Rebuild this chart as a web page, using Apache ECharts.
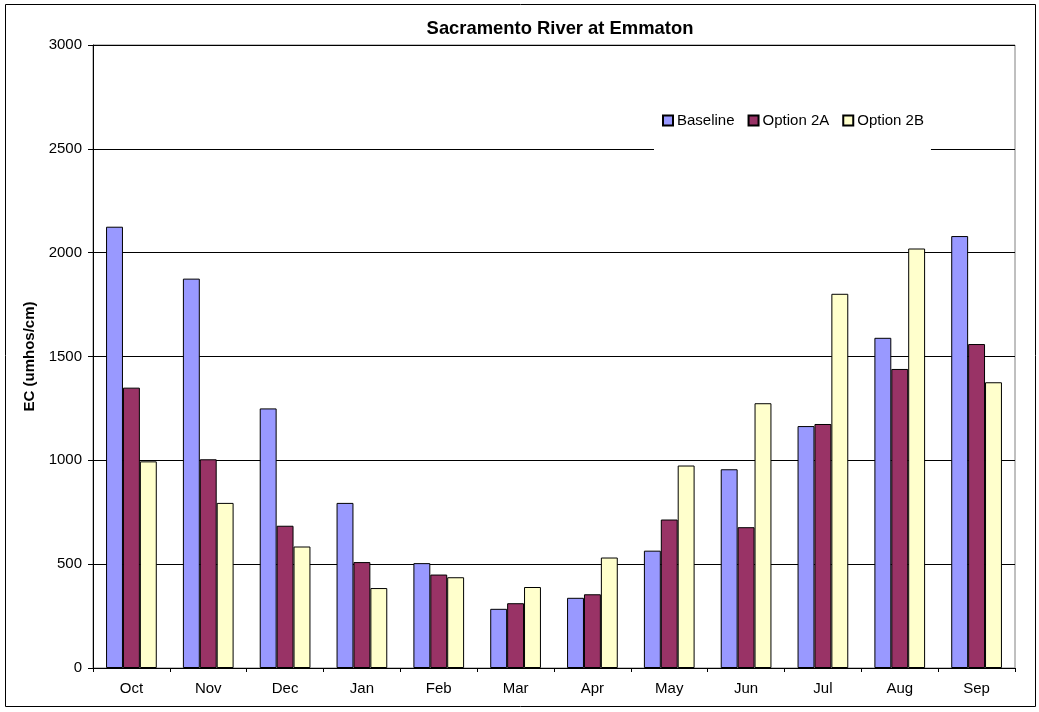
<!DOCTYPE html>
<html>
<head>
<meta charset="utf-8">
<script src="https://cdn.jsdelivr.net/npm/echarts@6/dist/echarts.min.js"></script>
<style>
  html, body { margin: 0; padding: 0; background: #fff; }
  #chart { width: 1039px; height: 712px; }
</style>
</head>
<body>
<div id="chart"></div>
<script>
var months = ['Oct', 'Nov', 'Dec', 'Jan', 'Feb', 'Mar', 'Apr', 'May', 'Jun', 'Jul', 'Aug', 'Sep'];
var baseline = [2125, 1875, 1250, 795, 505, 285, 338, 565, 957, 1165, 1590, 2080];
var option2A = [1350, 1005, 685, 510, 450, 312, 355, 715, 678, 1175, 1440, 1560];
var option2B = [995, 795, 585, 385, 437, 390, 532, 975, 1275, 1802, 2020, 1376];
var yTicks = [0, 500, 1000, 1500, 2000, 2500, 3000];

var font = 'Liberation Sans, Arial, sans-serif';
var myChart = echarts.init(document.getElementById('chart'));

function barSeries(name, data, color) {
    return {
        name: name,
        type: 'bar',
        data: data,
        barGap: '0%',
        barCategoryGap: '34%',
        itemStyle: { color: color, borderColor: '#000', borderWidth: 1 }
    };
}

var option = {
    animation: false,
    textStyle: { fontFamily: font },
    title: {
        text: 'Sacramento River at Emmaton',
        left: 555,
        textAlign: 'center',
        top: 15,
        textStyle: { fontSize: 18.4, fontWeight: 'bold', color: '#000', fontFamily: font }
    },
    legend: {
        data: ['Baseline', 'Option 2A', 'Option 2B'],
        left: 654,
        top: 98,
        padding: [15, 7, 26, 8],
        backgroundColor: '#fff',
        itemWidth: 10,
        itemHeight: 10,
        itemGap: 13,
        icon: 'rect',
        z: 10,
        textStyle: { fontSize: 15, color: '#000', fontFamily: font, padding: [0, 0, 0, -1] }
    },
    grid: {
        left: 93,
        right: 24,
        top: 45,
        bottom: 44,
        show: true,
        borderColor: '#808080',
        borderWidth: 1
    },
    xAxis: {
        type: 'category',
        data: months,
        axisLine: { lineStyle: { color: '#000' } },
        axisTick: { show: true, length: 4, interval: 0, lineStyle: { color: '#000' } },
        axisLabel: { color: '#000', fontSize: 15, margin: 13, fontFamily: font }
    },
    yAxis: {
        type: 'value',
        min: yTicks[0],
        max: yTicks[yTicks.length - 1],
        interval: 500,
        name: 'EC (umhos/cm)',
        nameLocation: 'middle',
        nameGap: 56,
        nameTextStyle: { fontSize: 15, fontWeight: 'bold', color: '#000', fontFamily: font },
        axisLine: { show: true, lineStyle: { color: '#000' } },
        axisTick: { show: true, length: 5, lineStyle: { color: '#000' } },
        axisLabel: {
            color: '#000', fontSize: 15, margin: 11, fontFamily: font,
            formatter: function (v) { return String(v); }
        },
        splitLine: { show: true, lineStyle: { color: '#000', width: 1 } }
    },
    graphic: [{
        type: 'rect',
        shape: { x: 5.5, y: 4.5, width: 1030, height: 702 },
        style: { fill: null, stroke: '#000', lineWidth: 1 },
        silent: true
    }],
    series: [
        barSeries('Baseline', baseline, '#9999FF'),
        barSeries('Option 2A', option2A, '#993366'),
        barSeries('Option 2B', option2B, '#FFFFCC')
    ]
};

myChart.setOption(option);
</script>
</body>
</html>
